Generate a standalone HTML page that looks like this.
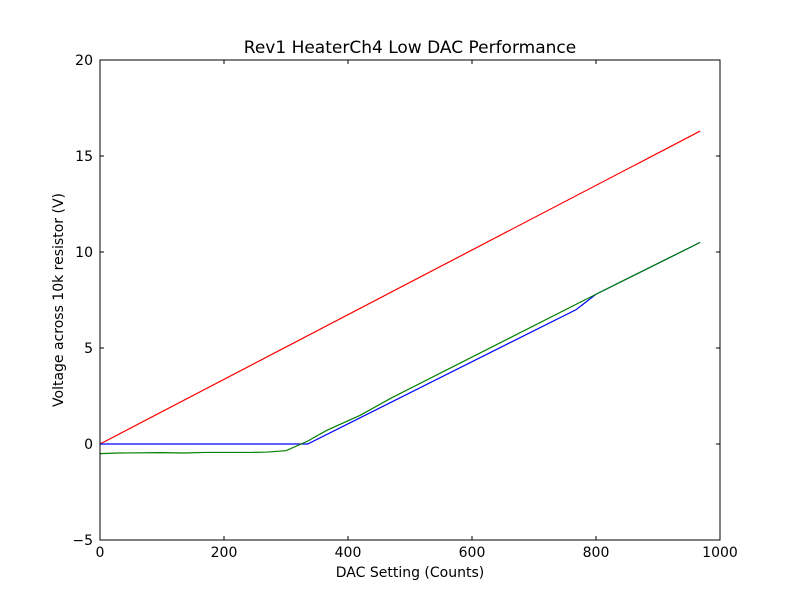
<!DOCTYPE html>
<html><head><meta charset="utf-8"><style>
body{margin:0;background:#fff;}
svg text{font-family:"DejaVu Sans","Liberation Sans",sans-serif;}
</style></head><body>
<svg id="chart" width="800" height="600" xmlns="http://www.w3.org/2000/svg">
<rect width="800" height="600" fill="#fff"/>
<text x="410" y="53" font-size="17" text-anchor="middle">Rev1 HeaterCh4 Low DAC Performance</text>
<text x="410" y="577" font-size="14" text-anchor="middle">DAC Setting (Counts)</text>
<text x="63" y="300" font-size="14" text-anchor="middle" transform="rotate(-90 63 300)">Voltage across 10k resistor (V)</text>
<g id="ticks"></g>
<g id="series"></g>
<rect x="100" y="60" width="620" height="480" fill="none" stroke="#000" stroke-width="1"/>
</svg>
<script>
const xTicks=[0,200,400,600,800,1000];
const yTicks=[-5,0,5,10,15,20];
const redX=[0,968];
const redY=[0,16.3];
const blueX=[0,335,768,800,968];
const blueY=[0,0,7.0,7.8,10.5];
const greenX=[0,30,100,135,170,240,270,300,335,365,420,470,800,968];
const greenY=[-0.5,-0.47,-0.45,-0.47,-0.44,-0.44,-0.42,-0.35,0.15,0.7,1.5,2.4,7.8,10.5];
const X=v=>100+(v-0)/1000*620;
const Y=v=>540-(v+5)/25*480;
const NS="http://www.w3.org/2000/svg";
const tg=document.getElementById('ticks');
function mk(t,a,p){const e=document.createElementNS(NS,t);for(const k in a)e.setAttribute(k,a[k]);p.appendChild(e);return e;}
xTicks.forEach(v=>{
 const l1=mk('line',{x1:X(v),x2:X(v),y1:540,y2:536,stroke:'#000'},tg);
 
 
 mk('line',{x1:X(v),x2:X(v),y1:60,y2:64,stroke:'#000'},tg);
 const t=mk('text',{x:X(v),y:557,'font-size':14,'text-anchor':'middle'},tg);
 
 
 t.textContent=v;
});
yTicks.forEach(v=>{
 const l1=mk('line',{x1:100,x2:104,y1:Y(v),y2:Y(v),stroke:'#000'},tg);
 
 
 mk('line',{x1:716,x2:720,y1:Y(v),y2:Y(v),stroke:'#000'},tg);
 const t=mk('text',{x:93,y:Y(v)+5,'font-size':14,'text-anchor':'end'},tg);
 
 
 t.textContent=v<0?'\u2212'+(-v):v;
});
const sg=document.getElementById('series');
function line(xs,ys,c,n){
 const p=mk('polyline',{points:xs.map((x,i)=>X(x)+','+Y(ys[i])).join(' '),fill:'none',stroke:c,'stroke-width':1.2},sg);
 
 
}
line(redX,redY,'#ff0000','red-series');
line(blueX,blueY,'#0000ff','blue-series');
line(greenX,greenY,'#008000','green-series');
</script>
</body></html>
